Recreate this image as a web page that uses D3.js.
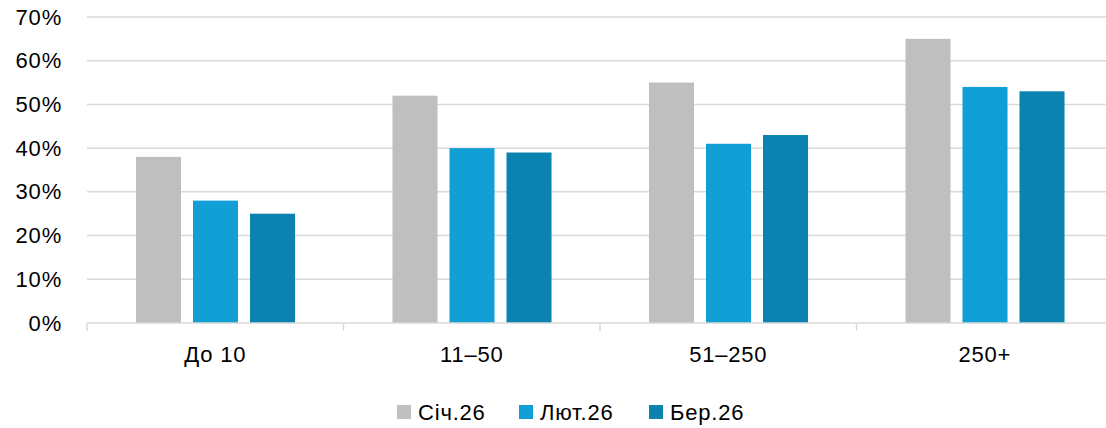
<!DOCTYPE html>
<html>
<head>
<meta charset="utf-8">
<script src="https://cdn.jsdelivr.net/npm/d3@7"></script>
<style>
  body { margin: 0; background: #fff; }
  svg { display: block; font-family: "Liberation Sans", Arial, sans-serif; }
  svg text { letter-spacing: 0.8px; }
</style>
</head>
<body>
<div id="chart"></div>
<script>
var categories = ["До 10", "11–50", "51–250", "250+"];
var seriesNames = ["Січ.26", "Лют.26", "Бер.26"];
var jan = [38, 52, 55, 65];
var feb = [28, 40, 41, 54];
var mar = [25, 39, 43, 53];
var yTicks = [0, 10, 20, 30, 40, 50, 60, 70];
var colors = ["#bfbfbf", "#119fd6", "#0b82b0"];

var W = 1106, H = 428;
var margin = { top: 17, left: 87, bottom: 105 };
var plotRight = 87 + 4 * 256.5;
var height = H - margin.top - margin.bottom;
var fontSize = "22px";

var svg = d3.select("#chart").append("svg")
  .attr("width", W)
  .attr("height", H);

var g = svg.append("g")
  .attr("transform", "translate(" + margin.left + "," + margin.top + ")");

var width = plotRight - margin.left;

var x0 = d3.scaleBand()
  .domain(categories)
  .range([0, width]);

var bw = x0.bandwidth();
var x1 = d3.scaleBand()
  .domain(seriesNames)
  .range([bw * 0.191, bw * 0.811])
  .paddingInner(0.21);

var y = d3.scaleLinear()
  .domain([0, 70])
  .range([height, 0]);

// gridlines
g.selectAll(".grid")
  .data(yTicks.filter(function(d) { return d > 0; }))
  .enter().append("line")
  .attr("x1", 0)
  .attr("x2", W - margin.left)
  .attr("y1", function(d) { return y(d); })
  .attr("y2", function(d) { return y(d); })
  .attr("stroke", "#d9d9d9")
  .attr("stroke-width", 1.5);

// y axis labels
var yAxis = d3.axisLeft(y)
  .tickValues(yTicks)
  .tickFormat(function(d) { return d + "%"; })
  .tickSize(0)
  .tickPadding(25);

g.append("g")
  .call(yAxis)
  .call(function(s) { s.select(".domain").remove(); })
  .selectAll("text")
  .attr("font-size", fontSize)
  .attr("fill", "#000")
  .attr("font-family", "Liberation Sans, Arial, sans-serif");

// bars
var rows = categories.map(function(c, i) {
  return { cat: c, vals: [jan[i], feb[i], mar[i]] };
});

var groups = g.selectAll(".grp")
  .data(rows)
  .enter().append("g")
  .attr("transform", function(d) { return "translate(" + x0(d.cat) + ",0)"; });

groups.selectAll("rect")
  .data(function(d) {
    return d.vals.map(function(v, j) { return { name: seriesNames[j], v: v, j: j }; });
  })
  .enter().append("rect")
  .attr("x", function(d) { return x1(d.name); })
  .attr("width", x1.bandwidth())
  .attr("y", function(d) { return y(d.v); })
  .attr("height", function(d) { return height - y(d.v); })
  .attr("fill", function(d) { return colors[d.j]; });

// x axis
var xAxis = d3.axisBottom(x0)
  .tickSize(0)
  .tickPadding(23);

var xg = g.append("g")
  .attr("transform", "translate(0," + height + ")")
  .call(xAxis);
xg.select(".domain").remove();
xg.selectAll("text")
  .attr("font-size", fontSize)
  .attr("fill", "#000")
  .attr("font-family", "Liberation Sans, Arial, sans-serif");

g.append("line")
  .attr("x1", 0)
  .attr("x2", W - margin.left)
  .attr("y1", height)
  .attr("y2", height)
  .attr("stroke", "#d9d9d9")
  .attr("stroke-width", 1.5);

// category separators
g.selectAll(".sep")
  .data(categories)
  .enter().append("line")
  .attr("x1", function(d) { return x0(d); })
  .attr("x2", function(d) { return x0(d); })
  .attr("y1", height)
  .attr("y2", height + 8)
  .attr("stroke", "#d9d9d9")
  .attr("stroke-width", 1.5);

// legend
var legendX = [397, 519, 649];
var legend = svg.append("g");
seriesNames.forEach(function(name, i) {
  legend.append("rect")
    .attr("x", legendX[i])
    .attr("y", 405)
    .attr("width", 14)
    .attr("height", 14)
    .attr("fill", colors[i]);
  legend.append("text")
    .attr("x", legendX[i] + 21)
    .attr("y", 420)
    .attr("font-size", fontSize)
    .attr("fill", "#000")
    .text(name);
});
</script>
</body>
</html>
